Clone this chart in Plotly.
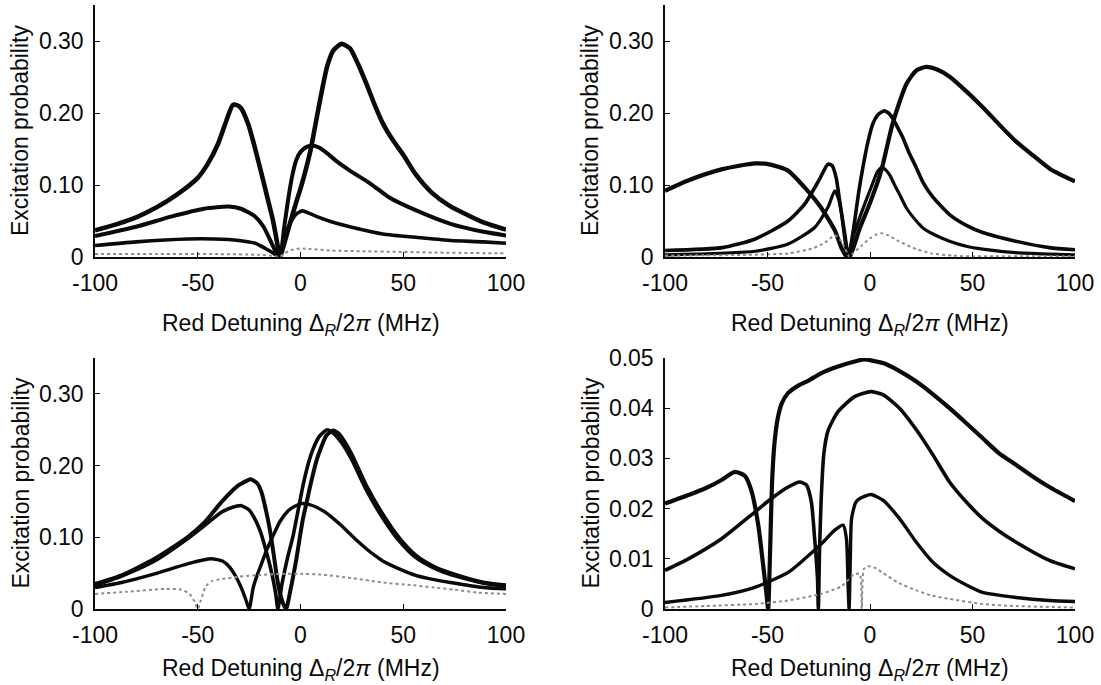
import plotly.graph_objects as go

# ---------------- data: excitation probability vs red detuning (MHz) ----------------
# Panel (a) top-left
a1_x = [-100, -90, -80, -70, -60, -50, -45, -40, -36, -33, -31, -29, -25.5, -22.3, -19, -15.8, -13.4, -11.5, -10,
        -8, -5, -2, 0, 2, 5, 8, 10, 13, 16, 20, 24, 28, 32, 36, 40, 45, 50, 56, 64, 72, 80, 89, 100]
a1_y = [0.037, 0.045, 0.055, 0.069, 0.087, 0.110, 0.130, 0.158, 0.190, 0.211, 0.211, 0.207, 0.185, 0.153, 0.116, 0.079, 0.051, 0.022, 0.0,
        0.018, 0.048, 0.077, 0.095, 0.115, 0.150, 0.195, 0.225, 0.265, 0.287, 0.296, 0.290, 0.268, 0.241, 0.212, 0.186, 0.162, 0.142, 0.115, 0.089, 0.072, 0.060, 0.048, 0.038]
a2_x = [-100, -80, -63, -47, -35, -29, -22, -18, -14, -11.5, -10, -8, -6, -4, -2, 0, 3, 6, 9, 13, 18, 24, 34, 43, 56, 73, 89, 100]
a2_y = [0.029, 0.042, 0.056, 0.067, 0.070, 0.067, 0.056, 0.042, 0.019, 0.004, 0.0, 0.040, 0.080, 0.113, 0.135, 0.146, 0.153, 0.155, 0.152, 0.144, 0.132, 0.120, 0.102, 0.083, 0.065, 0.046, 0.035, 0.030]
a3_x = [-100, -80, -55, -42, -30, -22, -16, -13, -11, -10, -8, -5, -2, 1, 4, 8, 15, 24, 40, 57, 73, 89, 100]
a3_y = [0.016, 0.021, 0.025, 0.025, 0.023, 0.019, 0.010, 0.005, 0.001, 0.0, 0.025, 0.047, 0.060, 0.064, 0.061, 0.056, 0.049, 0.042, 0.032, 0.027, 0.023, 0.021, 0.019]
a4_x = [-100, -70, -40, -20, -12, -10, -8, -4, 0, 5, 15, 30, 50, 70, 100]
a4_y = [0.004, 0.004, 0.004, 0.003, 0.001, 0.0, 0.005, 0.010, 0.012, 0.011, 0.009, 0.008, 0.007, 0.006, 0.005]

# Panel (b) top-right
b1_x = [-100, -89, -72, -56, -48, -40, -32, -24, -17, -14, -11.5, -10, -5, 0, 5.5, 11, 17.7, 22.6, 27.4, 33, 39, 47, 55, 63, 71, 80, 88, 100]
b1_y = [0.092, 0.106, 0.122, 0.130, 0.128, 0.120, 0.097, 0.069, 0.036, 0.013, 0.001, 0.0, 0.040, 0.075, 0.120, 0.185, 0.240, 0.259, 0.264, 0.260, 0.250, 0.230, 0.208, 0.184, 0.161, 0.140, 0.122, 0.105]
b2_x = [-100, -72, -56, -40, -32, -25, -20.5, -18.5, -16.5, -14.8, -12.3, -10.5, -8, -5.5, -3.5, -1, 1.4, 4, 7, 9, 11, 14, 16, 19, 22.6, 26, 30.7, 38.8, 47, 55, 71, 87.5, 100]
b2_y = [0.009, 0.013, 0.025, 0.050, 0.073, 0.106, 0.129, 0.127, 0.110, 0.078, 0.032, 0.0, 0.040, 0.090, 0.124, 0.160, 0.185, 0.198, 0.203, 0.200, 0.193, 0.177, 0.166, 0.145, 0.124, 0.103, 0.083, 0.059, 0.044, 0.034, 0.022, 0.013, 0.010]
b3_x = [-100, -56, -40, -27, -20.5, -17.2, -15.5, -14, -13, -12, -11, -8, -5, -2, 1, 3.5, 5.5, 8, 10, 12, 14.4, 18, 22.6, 26, 30.7, 38.8, 47, 55, 71, 87.5, 100]
b3_y = [0.003, 0.008, 0.018, 0.041, 0.069, 0.092, 0.082, 0.062, 0.040, 0.018, 0.0, 0.030, 0.055, 0.078, 0.100, 0.118, 0.124, 0.120, 0.112, 0.100, 0.087, 0.067, 0.050, 0.040, 0.032, 0.022, 0.015, 0.011, 0.006, 0.004, 0.003]
b4_x = [-100, -60, -40, -28, -22, -17, -14, -11, -10, -8, -4, 0, 3, 5.5, 9, 14, 22.6, 30, 40, 47, 60, 80, 100]
b4_y = [0.002, 0.003, 0.005, 0.012, 0.020, 0.030, 0.022, 0.005, 0.0, 0.006, 0.016, 0.026, 0.031, 0.033, 0.030, 0.022, 0.011, 0.005, 0.002, 0.001, 0.001, 0.001, 0.001]

# Panel (c) bottom-left
c1_x = [-100, -87, -71, -55, -46.6, -38.5, -30.4, -26, -24.3, -21, -19, -17, -15, -13, -11.5, -10, -8.5, -7, -5, -2, 1, 3, 5, 8, 10, 12.6, 15.8, 18, 20.6, 25, 32, 40, 48, 56, 65, 73, 89, 100]
c1_y = [0.035, 0.047, 0.070, 0.100, 0.121, 0.149, 0.172, 0.179, 0.181, 0.175, 0.163, 0.140, 0.112, 0.075, 0.045, 0.022, 0.008, 0.0, 0.025, 0.070, 0.123, 0.149, 0.175, 0.209, 0.225, 0.242, 0.249, 0.246, 0.237, 0.215, 0.172, 0.132, 0.099, 0.075, 0.059, 0.050, 0.037, 0.033]
c2_x = [-100, -87, -71, -55, -46, -38.5, -33, -28.8, -25, -22.3, -19.5, -17.4, -15.5, -13.4, -12, -11, -9, -6, -3.6, -1, 1.2, 4, 6.1, 9, 11, 13, 16, 20, 25, 32, 40, 48, 56, 65, 73, 89, 100]
c2_y = [0.033, 0.046, 0.067, 0.098, 0.118, 0.135, 0.142, 0.144, 0.138, 0.126, 0.108, 0.088, 0.068, 0.042, 0.020, 0.0, 0.035, 0.075, 0.102, 0.140, 0.172, 0.205, 0.223, 0.240, 0.246, 0.250, 0.245, 0.232, 0.208, 0.166, 0.127, 0.095, 0.072, 0.057, 0.048, 0.036, 0.032]
c3_x = [-100, -87, -71, -55, -43.4, -38, -35, -32, -30, -28, -26.5, -25, -23, -21, -19, -16.5, -14, -10, -6, -3, 0.4, 4, 7.8, 12, 16, 20, 24, 28, 32, 36, 40, 48, 56, 65, 73, 89, 100]
c3_y = [0.030, 0.037, 0.049, 0.063, 0.070, 0.067, 0.060, 0.048, 0.037, 0.024, 0.012, 0.0, 0.030, 0.048, 0.063, 0.082, 0.098, 0.122, 0.137, 0.143, 0.147, 0.146, 0.142, 0.135, 0.126, 0.116, 0.105, 0.094, 0.084, 0.075, 0.067, 0.056, 0.047, 0.041, 0.037, 0.030, 0.028]
c4_x = [-100, -85, -66, -58, -54, -51.5, -50, -48.5, -46, -43, -40, -30, -22, -10, 0, 10, 25, 40, 55, 65, 75, 86, 100]
c4_y = [0.021, 0.024, 0.028, 0.027, 0.021, 0.010, 0.0, 0.012, 0.032, 0.039, 0.041, 0.045, 0.047, 0.049, 0.049, 0.048, 0.043, 0.037, 0.033, 0.030, 0.027, 0.023, 0.021]

# Panel (d) bottom-right
d1_x = [-100, -88.6, -80.5, -72.4, -65.9, -61, -57.8, -54.5, -52.1, -50.5, -49.7, -48.7, -47.8, -46.6, -45, -43, -40, -35, -30, -23.7, -15.6, -7.5, -3, 6.3, 14, 22.6, 30, 38.8, 47, 55, 63, 71.3, 79, 87.5, 100]
d1_y = [0.021, 0.0227, 0.024, 0.0257, 0.0273, 0.0265, 0.0235, 0.0167, 0.0087, 0.003, 0.0, 0.012, 0.025, 0.033, 0.038, 0.041, 0.043, 0.0445, 0.0455, 0.047, 0.0483, 0.0493, 0.0497, 0.049, 0.0475, 0.0453, 0.043, 0.040, 0.037, 0.034, 0.031, 0.0287, 0.0265, 0.0243, 0.0215]
d2_x = [-100, -88.6, -72.4, -56.2, -48.1, -39.9, -34.3, -31, -28.6, -27, -25.6, -25.2, -24.6, -23.8, -22.5, -20.5, -15.6, -7.5, 0.4, 6.3, 14.4, 22.6, 30.7, 38.8, 47, 55, 63, 71.3, 87.5, 100]
d2_y = [0.0077, 0.010, 0.014, 0.0193, 0.022, 0.0243, 0.0253, 0.0247, 0.0213, 0.014, 0.006, 0.0, 0.012, 0.022, 0.031, 0.0355, 0.0393, 0.0423, 0.0433, 0.0427, 0.040, 0.0357, 0.0307, 0.0253, 0.0213, 0.018, 0.0155, 0.0133, 0.0097, 0.008]
d3_x = [-100, -72.4, -56.2, -39.9, -31.8, -23.7, -17.2, -13.1, -11.5, -10.7, -10.2, -9.6, -9, -7, -5, 0.4, 6.3, 14.4, 22.6, 30.7, 38.8, 47, 55, 71.3, 87.5, 100]
d3_y = [0.0013, 0.0027, 0.0043, 0.0073, 0.010, 0.013, 0.0157, 0.0167, 0.014, 0.0047, 0.0, 0.010, 0.018, 0.0212, 0.022, 0.0228, 0.0217, 0.018, 0.0133, 0.0093, 0.0067, 0.0048, 0.0033, 0.0023, 0.0017, 0.0015]
d4_x = [-100, -80, -56, -40, -24, -14, -8, -5, -4, -3, -1, 2, 6.3, 14, 22.6, 30, 38.8, 55, 70, 100]
d4_y = [0.0003, 0.0006, 0.001, 0.0017, 0.003, 0.0045, 0.0068, 0.007, 0.0, 0.008, 0.0085, 0.0083, 0.0072, 0.0052, 0.0037, 0.0027, 0.002, 0.001, 0.0006, 0.0003]

x_ticks = [-100, -50, 0, 50, 100]
y_ticks_main = [0, 0.10, 0.20, 0.30]
y_ticks_main_text = ["0", "0.10", "0.20", "0.30"]
y_ticks_small = [0, 0.01, 0.02, 0.03, 0.04, 0.05]
y_ticks_small_text = ["0", "0.01", "0.02", "0.03", "0.04", "0.05"]

# ---------------- figure ----------------
W, H = 1101, 685
FONT = "Liberation Sans, Arial, Helvetica, sans-serif"
BLACK = "#0a0a0a"
GREY = "#8c8c8c"
TICK_SIZE = 23
TITLE_SIZE = 23

fig = go.Figure()

panels = [
    ("x", "y", [(a1_x, a1_y, 4.6, BLACK), (a2_x, a2_y, 4.0, BLACK), (a3_x, a3_y, 3.6, BLACK), (a4_x, a4_y, 2.0, GREY)]),
    ("x2", "y2", [(b1_x, b1_y, 4.2, BLACK), (b2_x, b2_y, 3.6, BLACK), (b3_x, b3_y, 3.2, BLACK), (b4_x, b4_y, 2.0, GREY)]),
    ("x3", "y3", [(c1_x, c1_y, 4.0, BLACK), (c2_x, c2_y, 3.6, BLACK), (c3_x, c3_y, 3.4, BLACK), (c4_x, c4_y, 2.0, GREY)]),
    ("x4", "y4", [(d1_x, d1_y, 4.2, BLACK), (d2_x, d2_y, 3.6, BLACK), (d3_x, d3_y, 3.4, BLACK), (d4_x, d4_y, 2.0, GREY)]),
]

for xr, yr, curves in panels:
    for cx, cy, w, col in curves:
        fig.add_trace(go.Scatter(
            x=cx, y=cy, xaxis=xr, yaxis=yr, mode="lines",
            line=dict(color=col, width=w, shape="spline", smoothing=0.6,
                      dash="dot" if col == GREY else "solid"),
            showlegend=False, hoverinfo="skip", cliponaxis=True,
        ))

# panel placement in pixels
LEFT_X = (95, 506)
RIGHT_X = (665, 1075)
TOP_Y = (5, 257)      # top edge, zero line
BOT_Y = (358, 609)

def xdom(px):
    return [px[0] / W, px[1] / W]

def ydom(py):
    return [1 - py[1] / H, 1 - py[0] / H]

def xaxis(dom, anchor):
    return dict(domain=dom, anchor=anchor, range=[-100, 100], tickvals=x_ticks,
                ticktext=[str(v) for v in x_ticks], ticks="inside", ticklen=5, tickwidth=1,
                tickcolor=BLACK, showline=True, linecolor=BLACK, linewidth=1.5,
                showgrid=False, zeroline=False, ticklabelstandoff=5, automargin=False,
                tickfont=dict(family=FONT, size=TICK_SIZE, color=BLACK))

def yaxis(dom, anchor, rng, vals, text):
    return dict(domain=dom, anchor=anchor, range=rng, tickvals=vals, ticktext=text,
                ticks="inside", ticklen=5, tickwidth=1, tickcolor=BLACK,
                showline=True, linecolor=BLACK, linewidth=1.5,
                showgrid=False, zeroline=False, ticklabelstandoff=5, automargin=False,
                tickfont=dict(family=FONT, size=TICK_SIZE, color=BLACK))

fig.update_layout(
    width=W, height=H,
    margin=dict(l=0, r=0, t=0, b=0, autoexpand=False),
    paper_bgcolor="white", plot_bgcolor="white",
    xaxis=xaxis(xdom(LEFT_X), "y"),
    yaxis=yaxis(ydom(TOP_Y), "x", [0, 0.35], y_ticks_main, y_ticks_main_text),
    xaxis2=xaxis(xdom(RIGHT_X), "y2"),
    yaxis2=yaxis(ydom(TOP_Y), "x2", [0, 0.35], y_ticks_main, y_ticks_main_text),
    xaxis3=xaxis(xdom(LEFT_X), "y3"),
    yaxis3=yaxis(ydom(BOT_Y), "x3", [0, 0.35], y_ticks_main, y_ticks_main_text),
    xaxis4=xaxis(xdom(RIGHT_X), "y4"),
    yaxis4=yaxis(ydom(BOT_Y), "x4", [0, 0.05], y_ticks_small, y_ticks_small_text),
)

# axis titles
xtitle = "Red Detuning Δ<sub><i>R</i></sub>/2<i>π</i> (MHz)"
ytitle = "Excitation probability"
title_font = dict(family=FONT, size=TITLE_SIZE, color=BLACK)
for px, py, title_y in [(LEFT_X, TOP_Y, 324), (RIGHT_X, TOP_Y, 324), (LEFT_X, BOT_Y, 669), (RIGHT_X, BOT_Y, 669)]:
    fig.add_annotation(text=xtitle, xref="paper", yref="paper",
                       x=(px[0] + px[1]) / 2 / W, y=1 - title_y / H,
                       xanchor="center", yanchor="middle", showarrow=False, font=title_font)
    fig.add_annotation(text=ytitle, xref="paper", yref="paper",
                       x=(px[0] - 75) / W, y=1 - (py[0] + py[1]) / 2 / H,
                       xanchor="center", yanchor="middle", textangle=-90,
                       showarrow=False, font=title_font)

fig.write_html("out.html")
